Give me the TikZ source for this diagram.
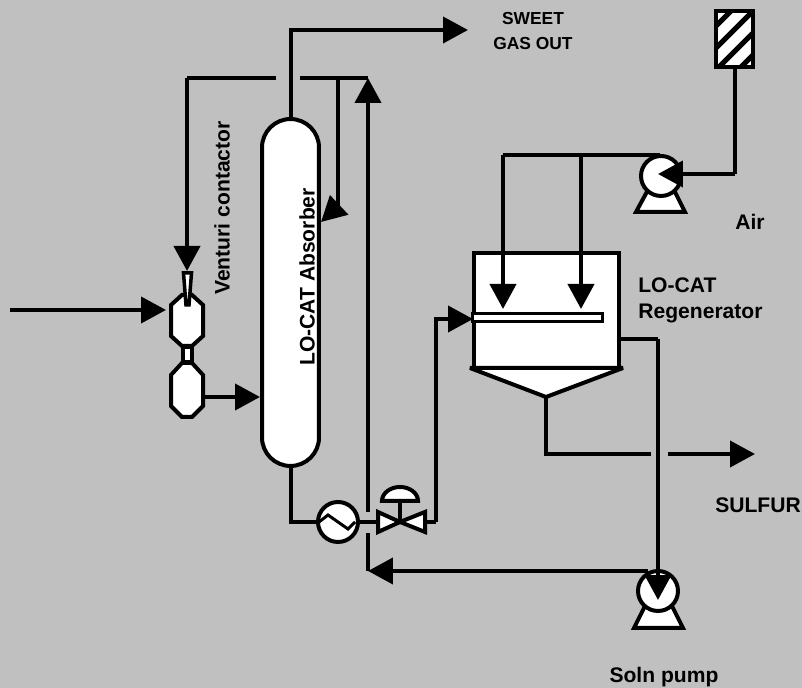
\documentclass[tikz,border=0pt]{standalone}
\usepackage{fontspec}
\setmainfont{Liberation Sans}
\usetikzlibrary{arrows.meta}
\definecolor{panelgray}{RGB}{192,192,192}
\tikzset{
    line/.style={line width=0.08cm},
    pipe/.style={line, -{Triangle[length=0.5cm,width=0.52cm]}},
    equip/.style={line, draw=black, fill=white},
    disc/.style={equip, circle, minimum size=0.8cm, inner sep=0pt},
    label/.style={font=\fontsize{12}{14.7}\selectfont\bfseries, inner sep=0pt},
}

\begin{document}
\begin{tikzpicture}[x=0.02cm, y=-0.02cm]
    % Background
    \fill[panelgray] (0,0) rectangle (802,688);
    \useasboundingbox (0,0) rectangle (802,688);

    % Free line ends
    \coordinate (feedin) at (10,310);
    \coordinate (feedtip) at (166,310);
    \coordinate (sweettip) at (468,30);
    \coordinate (venturitop) at (187,78);
    \coordinate (venturitip) at (187,271);
    \coordinate (gapleft) at (276,78);
    \coordinate (gapright) at (300,78);
    \coordinate (recycletip) at (368,78);
    \coordinate (spraytop) at (338,78);
    \coordinate (spraybend) at (338,206);
    \coordinate (spraytip) at (321,222);
    \coordinate (returntop) at (368,512);
    \coordinate (returnlow) at (368,533);
    \coordinate (returntip) at (368,571);
    \coordinate (pumpleft) at (648,571);
    \coordinate (lowerout) at (203,397);
    \coordinate (lowertip) at (260,397);
    \coordinate (valveL) at (377,522);
    \coordinate (valveR) at (426,522);
    \coordinate (valvemid) at (400,522);
    \coordinate (regentip) at (473,319);
    \coordinate (airA) at (503,155);
    \coordinate (airB) at (581,155);
    \coordinate (airAtip) at (503,309);
    \coordinate (airBtip) at (581,309);
    \coordinate (airend) at (660,155);
    \coordinate (airbend) at (735,174);
    \coordinate (airtip) at (658,174);
    \coordinate (overflow) at (621,339);
    \coordinate (overbend) at (658,339);
    \coordinate (soltip) at (658,600);
    \coordinate (conetip) at (546,397);
    \coordinate (sulfurgap) at (651,454);
    \coordinate (sulfurout) at (668,454);
    \coordinate (sulfurtip) at (755,454);

    % Equipment
    \node[equip, rounded corners=0.57cm, minimum width=1.14cm, minimum height=6.94cm] (absorber) at (290.5,292.5) {};
    \node[equip, minimum width=2.9cm, minimum height=2.3cm, inner sep=0pt] (regen) at (546.5,310.5) {};
    \node[disc] (exch) at (338,522) {};
    \draw[equip] (636,212) -- (685,212) -- (673,188) -- (649,188) -- cycle;
    \draw[equip] (634,628) -- (683,628) -- (671,604) -- (646,604) -- cycle;
    \node[disc] (airpump) at (661,176) {};
    \node[disc] (solnpump) at (658,591) {};

    % Filter hatching
    \coordinate (filterNW) at (716,11);
    \coordinate (filterSE) at (753,67);
    \coordinate (filterout) at (735,67);
    \fill[white] (filterNW) rectangle (filterSE);
    \begin{scope}
        \clip (filterNW) rectangle (filterSE);
        \foreach \s in {742,764,786,808} {
            \draw[line, line width=0.1cm] (\s-70,70) -- (\s,0);
        }
    \end{scope}
    \draw[line] (filterNW) rectangle (filterSE);

    % Absorber lines
    \draw[pipe] (absorber.north) |- (sweettip);
    \draw[line] (gapleft) -- (venturitop);
    \draw[pipe] (venturitop) -- (venturitip);
    \draw[line] (gapright) -- (recycletip);
    \draw[line] (spraytop) -- (spraybend);
    \draw[pipe] (spraybend) -- (spraytip);
    \draw[pipe] (returntop) -- (recycletip);
    \draw[pipe] (feedin) -- (feedtip);
    \draw[pipe] (lowerout) -- (lowertip);
    \draw[line] (absorber.south) |- (exch.west);

    % Venturi
    \draw[equip] (171,305) -- (182,295) -- (192,295) -- (203,305) -- (203,336) -- (192,346) -- (182,346) -- (171,336) -- cycle;
    \draw[equip] (171,375) -- (182,363) -- (192,363) -- (203,375) -- (203,406) -- (192,417) -- (182,417) -- (171,406) -- cycle;
    \draw[equip] (183,347) rectangle (192,362);
    \draw[equip, line width=0.07cm] (183.5,273) -- (191.5,273) -- (189,305) -- (186,305) -- cycle;

    % Exchanger and valve
    \draw[line] (exch.east) -- (valveL);
    \draw[line, line width=0.06cm] (319,522) -- (328,515) -- (348,529) -- (355,522);
    \draw[line] (valveR) -- ++(10,0) coordinate (riser);
    \draw[pipe] (riser) |- (regentip);
    \draw[line] (valvemid) -- ++(0,-21) coordinate (stemtop);
    \draw[equip] (382,501) arc[start angle=180, end angle=0, x radius=18, y radius=-14] -- cycle;
    \draw[equip] (378,512) -- (378,532) -- (valvemid) -- cycle;
    \draw[equip] (425,512) -- (425,532) -- (valvemid) -- cycle;

    % Regenerator
    \draw[equip, line join=bevel] (470,368) -- (623,368) -- (conetip) -- cycle;
    \draw[equip, line width=0.06cm] (regen.west |- 0,314) rectangle (602,322);
    \draw[line] (conetip) |- (sulfurgap);
    \draw[pipe] (sulfurout) -- (sulfurtip);
    \draw[line] (overflow) -- (overbend);
    \draw[pipe] (overbend) -- (soltip);

    % Air lines
    \draw[line] (airA) -- (airend);
    \draw[pipe] (airA) -- (airAtip);
    \draw[pipe] (airB) -- (airBtip);
    \draw[line] (filterout) |- (airbend);
    \draw[pipe] (airbend) -- (airtip);

    % Return line
    \draw[line] (returnlow) -- (returntip);
    \draw[pipe] (pumpleft) -- (returntip);

    % Labels
    \node[label, font=\fontsize{9.9}{14.7}\selectfont\bfseries, align=center] (sweetlabel) at (533,31) {SWEET\\GAS OUT};
    \node[label] (airlabel) at (750,222) {Air};
    \node[label, align=left, anchor=west] (regenlabel) at (638,300) {LO-CAT\\Regenerator};
    \node[label] (sulfurlabel) at (758,505) {SULFUR};
    \node[label] (pumplabel) at (664,677) {Soln pump};
    \node[label, rotate=90] (venturilabel) at (222,208) {Venturi contactor};
    \node[label, rotate=90] (absorberlabel) at (307,277) {LO-CAT Absorber};
\end{tikzpicture}
\end{document}
